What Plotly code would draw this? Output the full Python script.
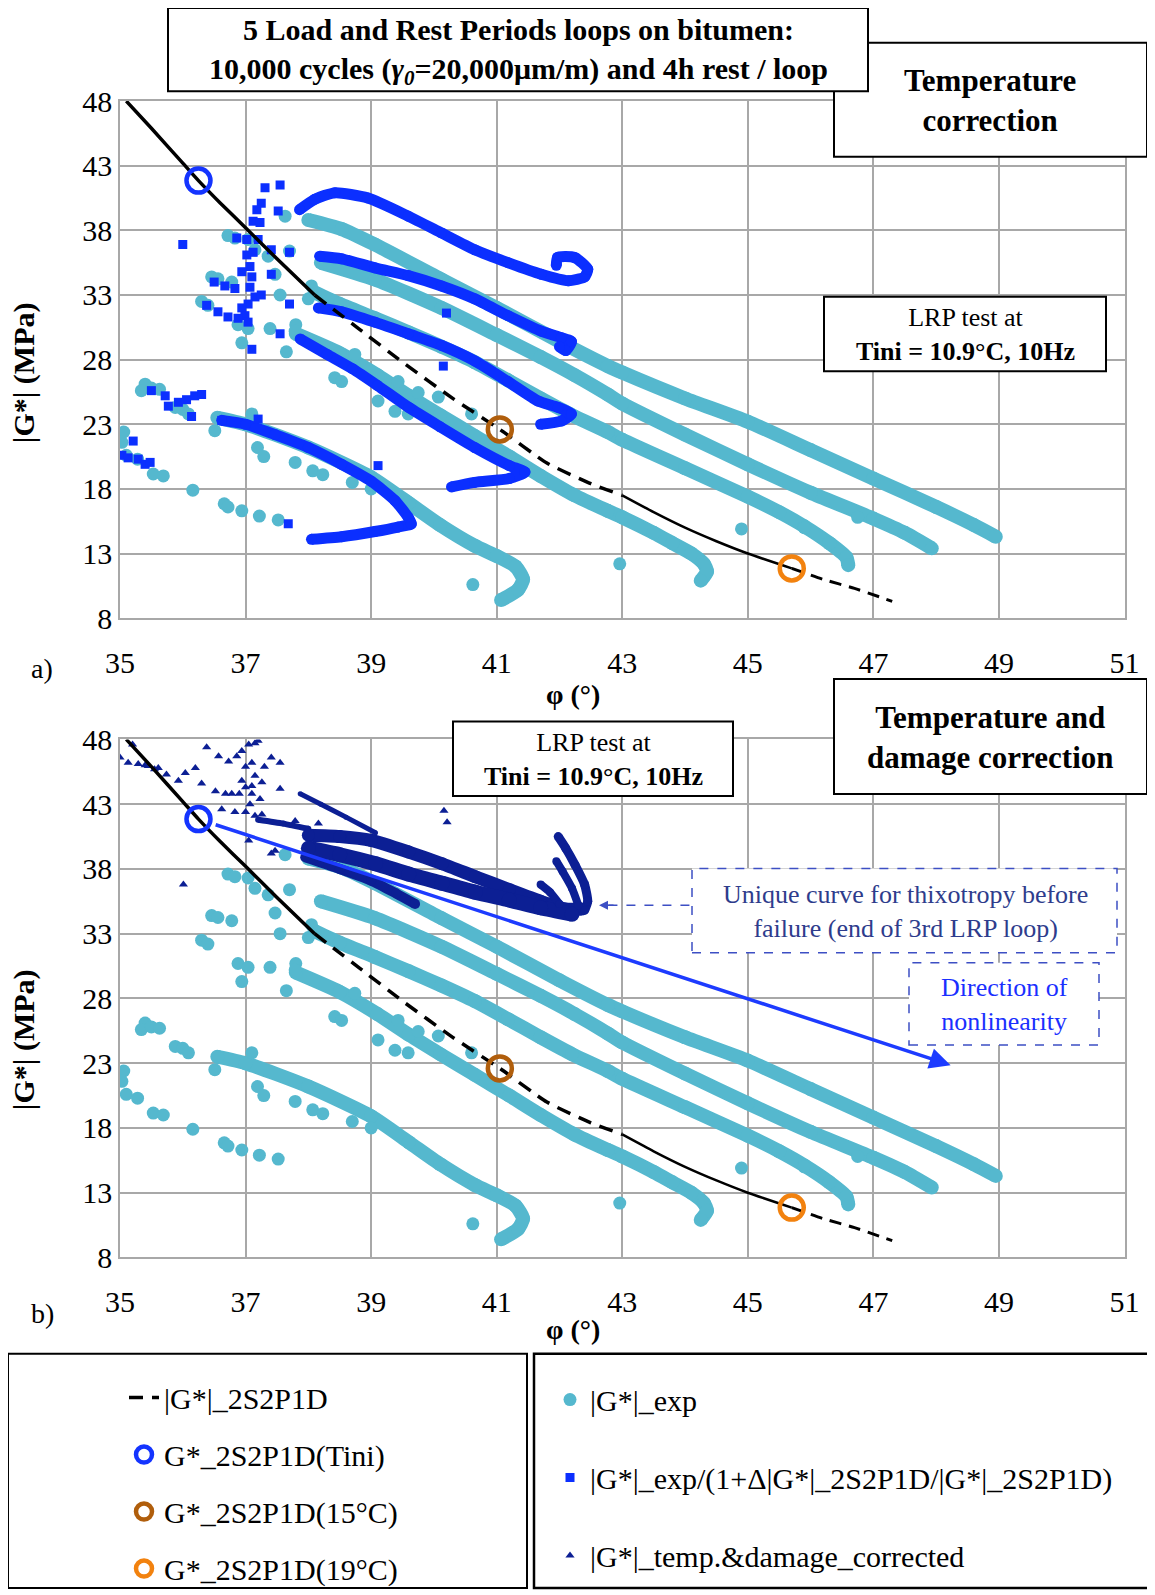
import plotly.graph_objects as go

# page body adds an 8px margin: figure is sized so the page is 1155x1595
OFF = 8
W, H = 1155 - OFF, 1595 - OFF
def px(x): return (x - OFF) / W
def py(y): return 1 - (y - OFF) / H

FONT = "Liberation Serif"
CYAN = "#55B8CE"
BLUE = "#0B2FFF"
NAVY = "#0C1F94"
C_TINI = "#1434FF"
C_15 = "#B05E0C"
C_19 = "#F2820F"

# ---------------- data ----------------
x_ticks = [35, 37, 39, 41, 43, 45, 47, 49, 51]
y_ticks = [8, 13, 18, 23, 28, 33, 38, 43, 48]

# 2S2P1D model curve |G*| vs phase angle
curve_phi = [35.1, 35.5, 36.0, 36.25, 36.6, 37.0, 37.5, 38.1, 38.8, 39.5, 40.3, 41.05, 41.8, 42.5,
             43.0, 43.5, 44.0, 44.5, 45.0, 45.7, 46.2, 46.7, 47.3]
curve_g = [48.0, 45.9, 43.2, 41.85, 40.1, 38.2, 35.8, 33.0, 30.4, 27.8, 25.0, 22.6, 20.0, 18.4,
           17.5, 16.2, 15.0, 13.95, 13.0, 11.85, 11.0, 10.3, 9.3]

# 2S2P1D reference points
tini_phi, tini_g = [36.25], [41.85]
t15_phi, t15_g = [41.05], [22.6]
t19_phi, t19_g = [45.7], [11.85]

# |G*|_exp : five loop bands
exp1_phi = [36.55, 37.0, 38.0, 39.0, 39.6, 40.1, 40.65, 41.0, 41.3, 41.42, 41.34, 41.07]
exp1_g = [23.5, 23.0, 21.2, 18.9, 16.9, 15.2, 13.6, 12.8, 12.0, 11.0, 10.2, 9.4]
exp2_phi = [37.8, 38.5, 39.1, 39.6, 40.1, 40.65, 41.2, 41.7, 42.24, 42.77, 43.0, 43.5, 43.8, 44.1, 44.3, 44.35, 44.25]
exp2_g = [30.0, 28.5, 26.8, 25.2, 23.7, 22.1, 20.5, 19.0, 17.5, 16.3, 15.8, 14.6, 13.8, 13.0, 12.2, 11.6, 10.9]
exp3_phi = [38.1, 38.5, 39.06, 39.6, 40.12, 40.65, 41.18, 41.7, 42.2, 42.77, 43.0, 44.0, 45.0, 45.5, 45.9, 46.3, 46.57, 46.6]
exp3_g = [33.2, 32.3, 31.2, 30.1, 29.0, 27.8, 26.4, 25.0, 23.7, 22.4, 21.8, 19.6, 17.4, 16.2, 15.1, 13.8, 12.7, 12.1]
exp4_phi = [38.2, 39.06, 40.12, 41.0, 41.7, 42.24, 42.77, 43.0, 44.0, 45.0, 46.0, 47.0, 47.5, 47.93]
exp4_g = [35.5, 34.2, 32.0, 29.9, 28.2, 26.8, 25.3, 24.6, 22.2, 19.9, 17.7, 15.7, 14.6, 13.4]
exp5_phi = [38.0, 38.53, 39.06, 40.12, 41.0, 42.0, 42.77, 43.0, 44.0, 45.0, 46.0, 47.0, 48.0, 48.6, 48.95]
exp5_g = [38.8, 38.1, 36.9, 34.2, 32.0, 29.4, 27.5, 27.0, 25.0, 23.2, 21.0, 18.8, 16.6, 15.2, 14.3]

# |G*|_exp : isolated points (rest-period recoveries)
exp_pts_phi = [37.63, 36.72, 36.83, 37.04, 37.15, 37.36, 37.47, 37.7, 36.46, 36.56, 36.78, 36.3, 36.4,
               36.88, 37.04, 36.94, 37.39, 37.55, 37.8, 37.79, 37.65, 38.05, 38.0, 38.74, 38.42, 38.53,
               39.43, 39.75, 40.07, 40.6, 39.11, 39.38, 35.4, 35.34, 35.5, 35.63, 35.88, 36.0, 36.09,
               35.06, 35.03, 35.1, 35.28, 35.53, 35.69, 36.16, 36.66, 36.72, 36.94, 37.22, 37.52, 36.51,
               37.1, 37.19, 37.29, 37.79, 38.07, 38.23, 38.7, 39.0, 40.62, 39.59, 42.96, 44.9, 45.9, 46.75]
exp_pts_g = [39.1, 37.6, 37.4, 37.3, 36.5, 36.0, 34.6, 36.4, 34.4, 34.25, 34.0, 32.5, 32.2,
             30.7, 30.4, 29.3, 30.4, 33.0, 30.7, 30.2, 28.6, 33.7, 32.7, 28.4, 26.6, 26.3,
             26.3, 25.45, 25.1, 23.8, 24.8, 24.0, 26.1, 25.6, 25.8, 25.7, 24.3, 24.15, 23.8,
             22.4, 21.6, 20.6, 20.3, 19.15, 19.0, 17.9, 16.85, 16.6, 16.3, 15.9, 15.6, 22.5,
             23.8, 21.2, 20.5, 20.05, 19.4, 19.1, 18.5, 18.0, 10.6, 23.8, 12.2, 14.9, 15.0, 15.8]

# |G*|_exp/(1+D|G*|/|G*|) : temperature corrected loop bands
tc1_phi = [36.62, 37.0, 37.47, 38.0, 38.53, 39.0, 39.38, 39.59, 39.64, 39.43, 39.06, 38.53, 38.05]
tc1_g = [23.3, 23.0, 22.2, 21.2, 19.9, 18.6, 17.1, 15.8, 15.3, 15.05, 14.7, 14.3, 14.1]
tc2_phi = [37.87, 38.3, 38.7, 39.1, 39.6, 40.1, 40.65, 41.2, 41.45, 41.2, 40.65, 40.28]
tc2_g = [29.6, 28.4, 27.3, 26.0, 24.3, 22.8, 21.2, 19.8, 19.3, 18.8, 18.5, 18.15]
tc3_phi = [38.16, 38.53, 39.06, 39.59, 40.12, 40.65, 41.18, 41.66, 41.98, 42.19, 42.03, 41.7]
tc3_g = [32.0, 31.7, 30.9, 30.0, 29.1, 27.9, 26.3, 24.8, 24.3, 23.8, 23.25, 23.0]
tc4_phi = [38.18, 38.53, 39.06, 39.59, 40.12, 40.65, 41.18, 41.71, 42.03, 42.19, 42.1, 42.0]
tc4_g = [36.0, 35.8, 35.1, 34.5, 33.7, 32.7, 31.4, 30.2, 29.7, 29.4, 28.7, 29.0]
tc5_phi = [37.86, 38.1, 38.42, 38.95, 39.59, 40.12, 40.65, 41.18, 41.71, 42.14, 42.4, 42.45, 42.24, 41.97, 41.95]
tc5_g = [39.6, 40.4, 40.9, 40.5, 39.1, 37.8, 36.5, 35.5, 34.6, 34.1, 34.4, 35.0, 35.9, 35.9, 35.3]

tc_pts_phi = [37.31, 37.55, 37.25, 37.18, 37.52, 37.12, 37.23, 36.0, 36.86, 37.02, 37.2, 37.02, 37.12,
              37.41, 37.7, 37.07, 36.94, 37.1, 37.07, 36.5, 36.67, 36.83, 37.41, 37.15, 37.25, 37.04,
              36.94, 36.99, 37.04, 36.38, 36.56, 36.72, 36.88, 37.7, 37.55, 37.1, 40.15, 40.2,
              35.5, 35.72, 35.77, 35.93, 36.06, 36.19, 36.3, 36.14, 36.62, 37.2, 35.21, 35.03, 35.13,
              35.29, 35.4, 35.48, 39.11, 37.68]
tc_pts_g = [41.3, 41.5, 40.1, 39.6, 39.5, 38.7, 38.6, 36.9, 37.4, 37.3, 37.3, 36.1, 36.3,
            36.5, 36.3, 35.2, 34.8, 34.4, 33.6, 34.0, 33.7, 33.5, 34.6, 32.85, 33.0, 32.3,
            32.0, 31.4, 30.9, 32.2, 31.7, 31.3, 31.2, 32.3, 30.0, 28.8, 27.5, 31.6,
            25.6, 25.2, 24.4, 24.7, 24.9, 25.2, 25.3, 23.6, 23.3, 23.4, 21.7, 20.6, 20.4,
            20.3, 19.9, 20.05, 19.8, 15.3]

# |G*|_temp.&damage_corrected : dense branches
td0_phi = [37.2, 37.6, 38.0]
td0_g = [41.8, 41.5, 41.1]
td1_phi = [38.0, 38.5, 39.0, 39.6, 40.13, 40.66, 41.2, 41.7, 42.1, 42.35]
td1_g = [40.6, 40.5, 40.2, 39.3, 38.4, 37.4, 36.4, 35.5, 34.9, 34.9]
td2_phi = [37.87, 38.2, 38.6, 39.07]
td2_g = [43.8, 43.0, 42.0, 40.8]
td3_phi = [37.95, 38.5, 39.0, 39.4, 39.7]
td3_g = [38.9, 38.0, 37.1, 36.1, 35.3]
td4_phi = [38.0, 38.5, 39.07, 39.6, 40.13, 40.66, 41.2, 41.7, 42.2]
td4_g = [39.6, 39.1, 38.4, 37.6, 36.9, 36.2, 35.6, 35.0, 34.5]
td5_phi = [41.98, 42.1, 42.25, 42.4, 42.45, 42.4]
td5_g = [40.5, 39.6, 38.3, 36.8, 35.5, 34.8]
td6_phi = [41.95, 42.05, 42.2, 42.3]
td6_g = [38.6, 37.8, 36.5, 35.2]
td7_phi = [41.7, 41.85, 42.0]
td7_g = [36.8, 36.2, 35.3]

td_pts_phi = [35.0, 35.13, 35.29, 35.45, 35.61, 35.74, 35.93, 36.04, 36.2, 36.38, 36.57, 36.73, 36.86,
              36.94, 37.05, 37.15, 37.2, 37.0, 37.1, 37.3, 37.41, 37.55, 37.15, 36.94, 37.0, 37.1,
              37.26, 37.55, 36.52, 36.68, 36.78, 36.9, 37.1, 37.07, 37.23, 36.62, 36.83, 37.0, 37.15,
              37.26, 37.05, 37.41, 37.47, 36.01, 37.79, 38.16, 40.16, 40.21, 35.2, 35.4, 35.55, 36.3]
td_pts_g = [46.6, 46.2, 46.1, 45.95, 45.8, 45.3, 44.8, 45.4, 45.8, 47.4, 46.7, 46.3, 46.7,
            47.1, 47.6, 47.7, 47.9, 45.9, 46.2, 45.9, 46.6, 46.2, 45.2, 44.8, 44.3, 44.4,
            44.7, 44.2, 44.0, 43.8, 43.8, 43.8, 43.8, 43.0, 43.4, 42.6, 42.4, 42.4, 42.1,
            42.2, 40.2, 39.2, 39.4, 36.8, 41.7, 41.5, 42.5, 41.6, 47.6, 46.0, 45.7, 44.6]

# direction-of-nonlinearity arrow end and thixotropy pointer target
nonlin_end_phi, nonlin_end_g = 48.23, 22.85
thixo_phi, thixo_g = 42.63, 35.2
thixo_line_start_phi = 44.07

# ---------------- figure ----------------
fig = go.Figure()

def band(xs, ys, color, width, xa, ya):
    fig.add_trace(go.Scatter(x=xs, y=ys, mode="lines+markers", xaxis=xa, yaxis=ya,
                             line=dict(color=color, width=width, shape="spline", smoothing=0.6),
                             marker=dict(color=color, size=width), showlegend=False,
                             hoverinfo="skip"))

exp_bands = [(exp1_phi, exp1_g), (exp2_phi, exp2_g), (exp3_phi, exp3_g), (exp4_phi, exp4_g), (exp5_phi, exp5_g)]
tc_bands = [(tc1_phi, tc1_g), (tc2_phi, tc2_g), (tc3_phi, tc3_g), (tc4_phi, tc4_g), (tc5_phi, tc5_g)]
td_bands = [(td0_phi, td0_g, 6), (td1_phi, td1_g, 13), (td2_phi, td2_g, 5), (td3_phi, td3_g, 10),
            (td4_phi, td4_g, 15), (td5_phi, td5_g, 9), (td6_phi, td6_g, 8), (td7_phi, td7_g, 8)]

for row, (xa, ya) in enumerate([("x", "y"), ("x2", "y2")]):
    first = row == 0
    for bx, by in exp_bands:
        band(bx, by, CYAN, 14, xa, ya)
    fig.add_trace(go.Scatter(x=exp_pts_phi, y=exp_pts_g, mode="markers", xaxis=xa, yaxis=ya,
                             marker=dict(color=CYAN, size=13), name="|G*|_exp",
                             legend="legend2", legendgroup="exp", legendrank=1,
                             showlegend=first))
    if first:
        for bx, by in tc_bands:
            band(bx, by, BLUE, 11, xa, ya)
        fig.add_trace(go.Scatter(x=tc_pts_phi, y=tc_pts_g, mode="markers", xaxis=xa, yaxis=ya,
                                 marker=dict(color=BLUE, size=9, symbol="square"),
                                 name="|G*|_exp/(1+Δ|G*|_2S2P1D/|G*|_2S2P1D)",
                                 legend="legend2", legendgroup="tc", legendrank=2))
    else:
        for bx, by, bw in td_bands:
            band(bx, by, NAVY, bw, xa, ya)
        fig.add_trace(go.Scatter(x=td_pts_phi, y=td_pts_g, mode="markers", xaxis=xa, yaxis=ya,
                                 marker=dict(color=NAVY, size=8, symbol="triangle-up"),
                                 name="|G*|_temp.&damage_corrected",
                                 legend="legend2", legendgroup="td", legendrank=3))
    # model curve: solid and dashed stretches
    segs = [(0, 8, None, 3.5), (7, 15, "14px,9px", 3.5), (14, 20, None, 2.5), (19, 23, "12px,8px", 3)]
    for k, (a, b, dash, w) in enumerate(segs):
        fig.add_trace(go.Scatter(x=curve_phi[a:b], y=curve_g[a:b], mode="lines", xaxis=xa, yaxis=ya,
                                 line=dict(color="black", width=w, dash=dash, shape="spline", smoothing=0.5),
                                 name="|G*|_2S2P1D", legend="legend", legendgroup="curve",
                                 legendrank=1, showlegend=(first and k == 1), hoverinfo="skip"))
    for (cx, cy, col, nm, rk) in [(tini_phi, tini_g, C_TINI, "G*_2S2P1D(Tini)", 2),
                                  (t15_phi, t15_g, C_15, "G*_2S2P1D(15°C)", 3),
                                  (t19_phi, t19_g, C_19, "G*_2S2P1D(19°C)", 4)]:
        fig.add_trace(go.Scatter(x=cx, y=cy, mode="markers", xaxis=xa, yaxis=ya,
                                 marker=dict(symbol="circle-open", size=24, color=col,
                                             line=dict(width=4.5, color=col)),
                                 name=nm, legend="legend", legendgroup=nm, legendrank=rk,
                                 showlegend=first))

# ---------------- axes ----------------
xdom = [px(120), px(1124.5)]
top_dom = [py(622.8), py(101.8)]
bot_dom = [py(1267), py(745)]
tickfont = dict(family=FONT, size=30, color="black")
ax_common = dict(showgrid=True, gridcolor="#A8A8A8", gridwidth=1.5, showline=True,
                 linecolor="#A8A8A8", linewidth=1.5, mirror=True, zeroline=False,
                 ticks="", tickfont=tickfont, automargin=False, fixedrange=True)
xa_common = dict(ax_common, range=[35, 51], tickvals=x_ticks, ticklabelstandoff=17)
ya_common = dict(ax_common, range=[8, 48], tickvals=y_ticks, ticklabelstandoff=0)

LEGFONT = dict(family=FONT, size=30, color="black")
fig.update_layout(
    width=W, height=H, margin=dict(l=0, r=0, t=0, b=0),
    paper_bgcolor="white", plot_bgcolor="white",
    xaxis=dict(xa_common, domain=xdom, anchor="y"),
    yaxis=dict(ya_common, domain=top_dom, anchor="x"),
    xaxis2=dict(xa_common, domain=xdom, anchor="y2"),
    yaxis2=dict(ya_common, domain=bot_dom, anchor="x2"),
    legend=dict(x=px(124), y=py(1382), xanchor="left", yanchor="top",
                font=LEGFONT, tracegroupgap=15,
                bgcolor="rgba(0,0,0,0)", borderwidth=0, itemsizing="trace"),
    legend2=dict(x=px(550), y=py(1384), xanchor="left", yanchor="top",
                 font=LEGFONT, tracegroupgap=36,
                 bgcolor="rgba(0,0,0,0)", borderwidth=0, itemsizing="trace"),
)

# ---------------- boxes & text ----------------
shapes = []
annos = []

def box(x0, y0, x1, y1, dash=None, color="black", width=2):
    shapes.append(dict(type="rect", xref="paper", yref="paper", x0=px(x0), x1=px(x1),
                       y0=py(y1), y1=py(y0), line=dict(color=color, width=width, dash=dash),
                       fillcolor="white", layer="above"))

def text(x, y, s, size, color="black", angle=0):
    annos.append(dict(xref="paper", yref="paper", x=px(x), y=py(y), text=s, showarrow=False,
                      xanchor="center", yanchor="middle", textangle=angle,
                      font=dict(family=FONT, size=size, color=color)))

box(834, 43, 1147, 158)
box(168, 8, 868, 92)
text(518, 52, "<b>5 Load and Rest Periods loops on bitumen:<br>10,000 cycles (<i>γ<sub>0</sub></i>=20,000μm/m) and 4h rest / loop</b>", 30)
text(990, 101, "<b>Temperature<br>correction</b>", 31)
box(824, 299, 1106, 374)
text(965, 337, "LRP test at<br><b>Tini = 10.9°C, 10Hz</b>", 26)

box(453, 727, 733, 802)
text(593, 765, "LRP test at<br><b>Tini = 10.9°C, 10Hz</b>", 26)
box(834, 684, 1147, 800)
text(990, 743, "<b>Temperature and<br>damage correction</b>", 31)
box(692, 875, 1117, 960, dash="dash", color="#3D4FC4", width=1.5)
text(905, 918, "Unique curve for thixotropy before<br>failure (end of 3rd LRP loop)", 26, color="#2E3C8C")
box(909, 970, 1099, 1053, dash="dash", color="#3D4FC4", width=1.5)
text(1004, 1012, "Direction of<br>nonlinearity", 26, color="#1A2FFF")

# axis titles and panel labels
for yt in (700, 1340):
    text(573, yt, "<b>φ (°)</b>", 28)
for yt in (376, 1048):
    text(24, yt, "<b>|G*| (MPa)</b>", 30, angle=-90)
text(42, 674, "a)", 28)
text(42, 1323, "b)", 28)

# legend boxes
box(8, 1364, 527, 1600, width=2)
box(534, 1364, 1162, 1600, width=2.5)

# arrows in panel b
annos.append(dict(xref="x2", yref="y2", axref="x2", ayref="y2", x=nonlin_end_phi, y=nonlin_end_g,
                  ax=tini_phi[0] + 0.25, ay=tini_g[0] - 0.4, text="", showarrow=True,
                  arrowhead=2, arrowsize=1.2, arrowwidth=3.5, arrowcolor="#1D3BFF"))
shapes.append(dict(type="line", xref="x2", yref="y2", x0=thixo_line_start_phi, x1=thixo_phi + 0.15,
                   y0=thixo_g, y1=thixo_g, line=dict(color="#3D4FC4", width=1.5, dash="dash"),
                   layer="above"))
annos.append(dict(xref="x2", yref="y2", x=thixo_phi, y=thixo_g, ax=16, ay=0, text="",
                  showarrow=True, arrowhead=2, arrowsize=1.2, arrowwidth=1.5, arrowcolor="#3D4FC4"))

fig.update_layout(shapes=shapes, annotations=annos)
fig.write_html("out.html")
